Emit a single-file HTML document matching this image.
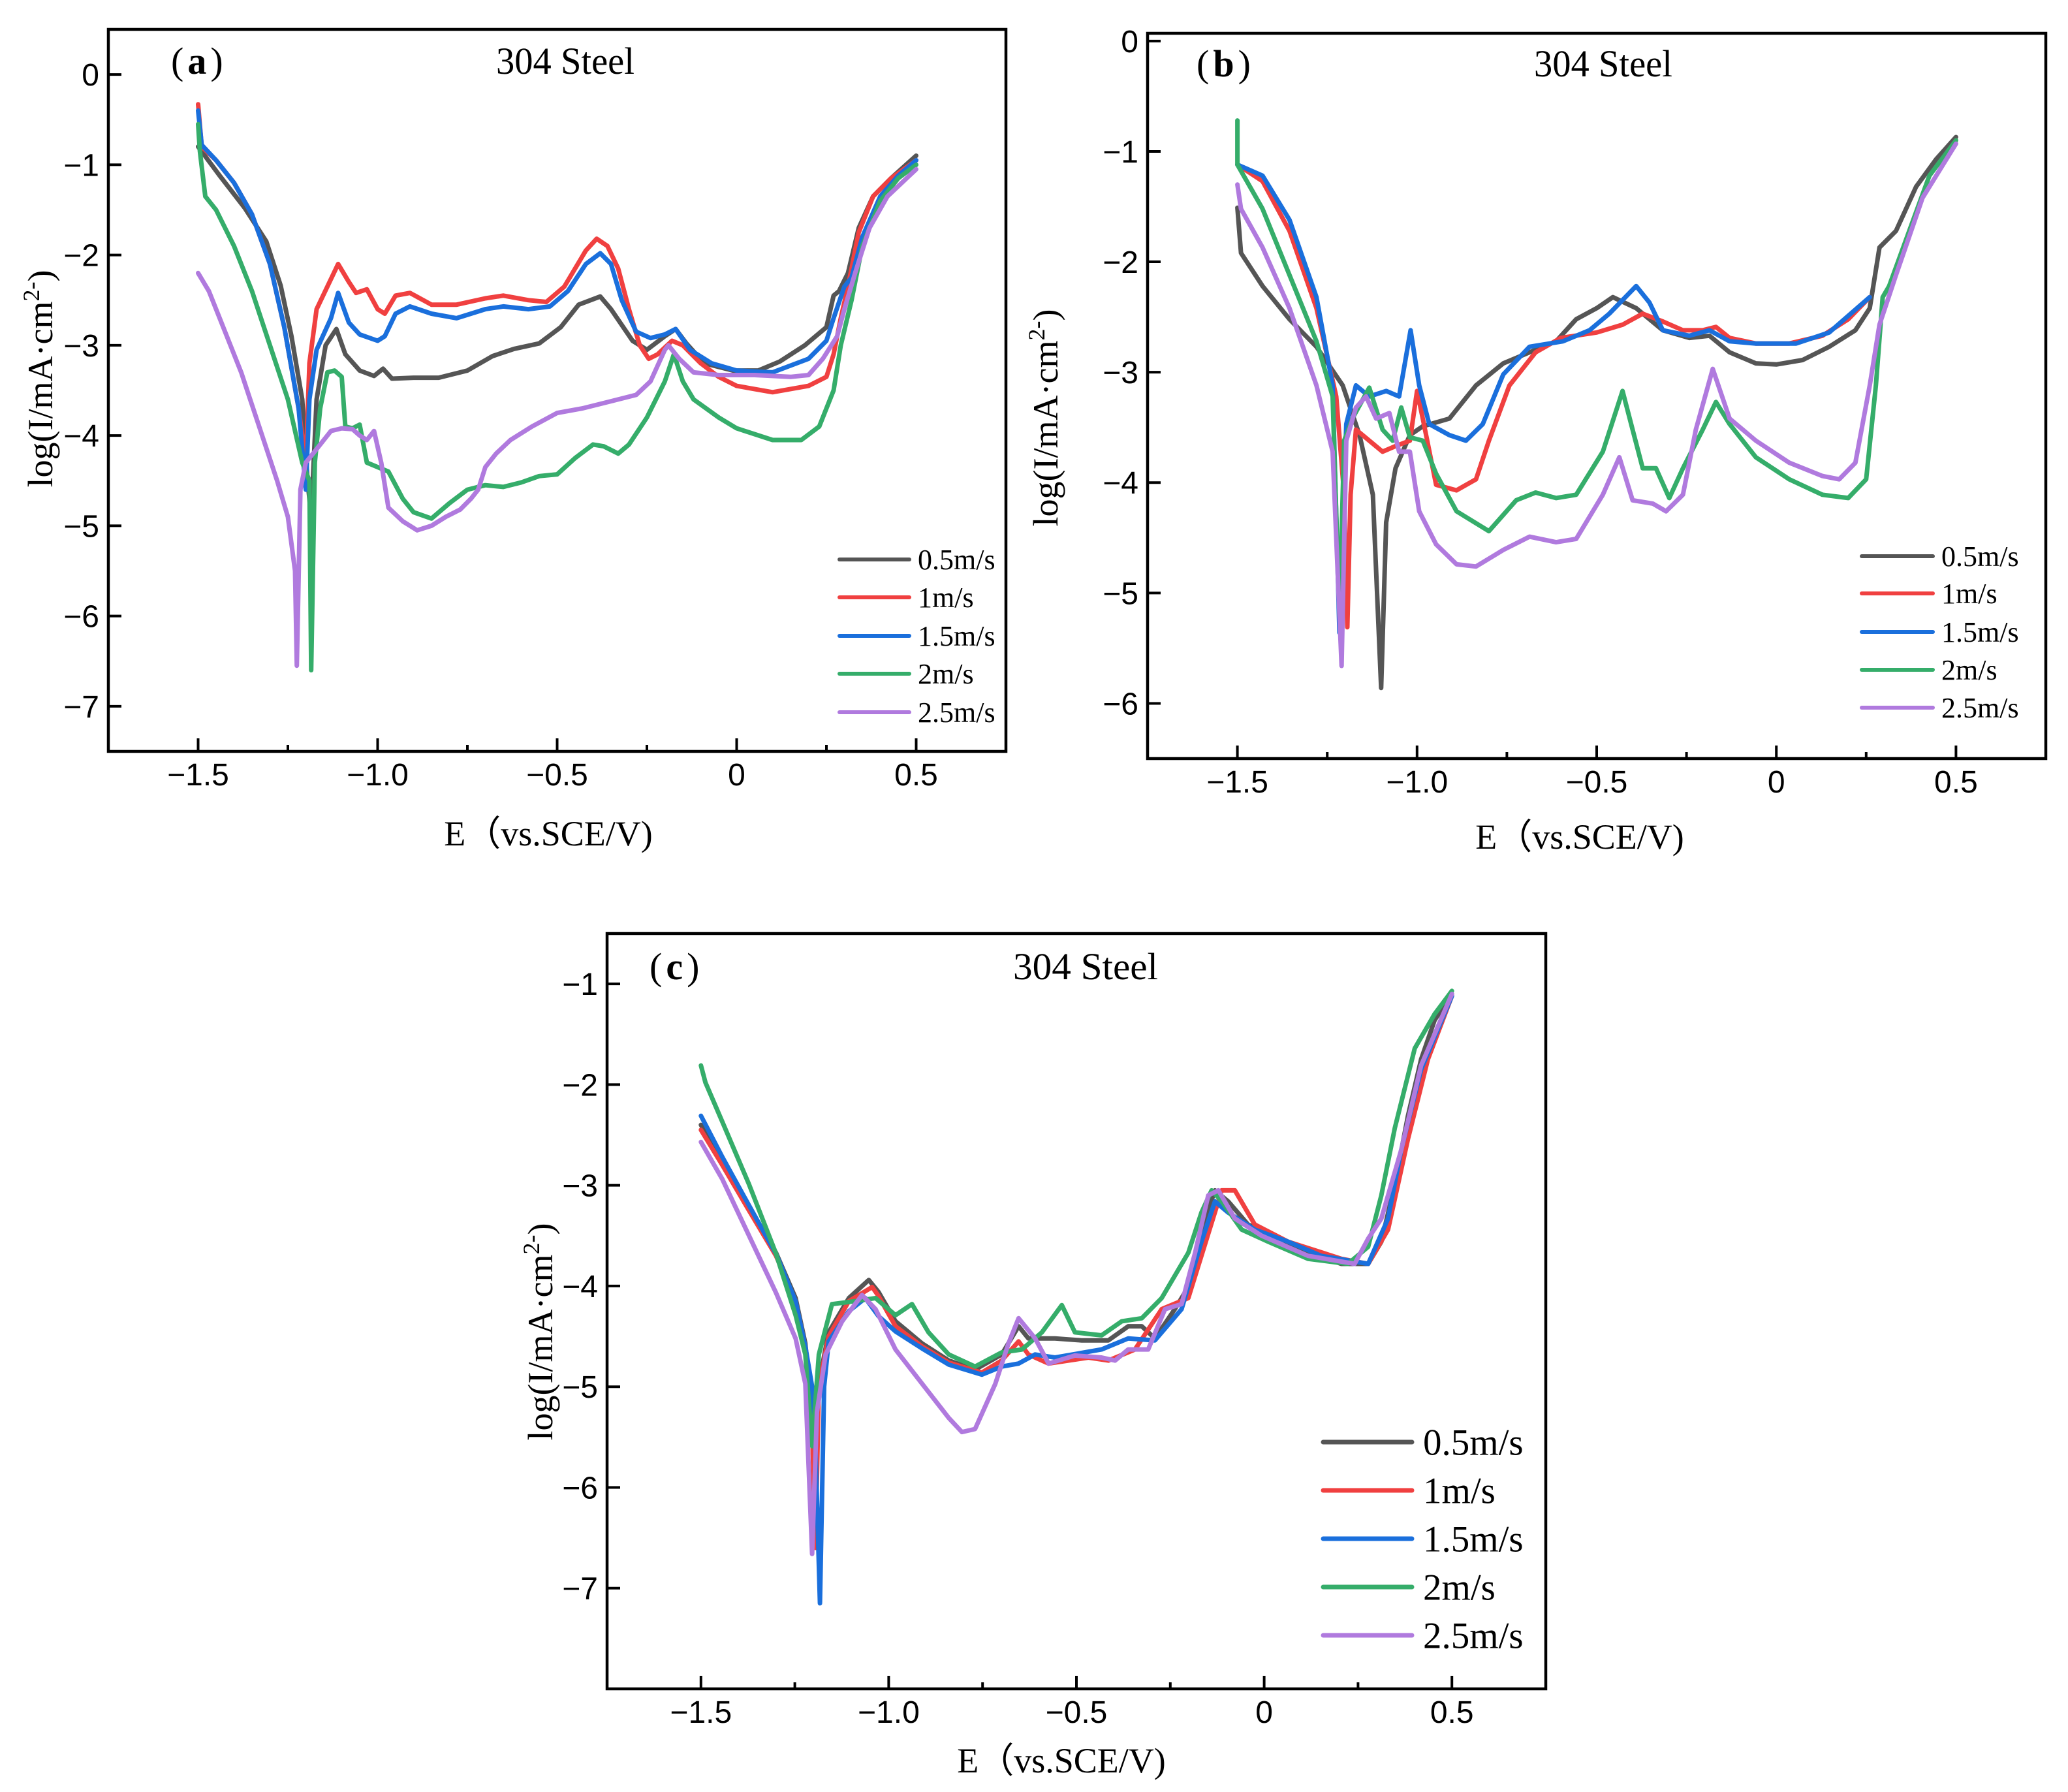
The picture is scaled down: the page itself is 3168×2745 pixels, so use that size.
<!DOCTYPE html>
<html><head><meta charset="utf-8">
<style>
html,body{margin:0;padding:0;background:#fff;}
svg{display:block;}
.tick{font-family:"Liberation Sans",sans-serif;font-size:48px;fill:#000;}
.serif{font-family:"Liberation Serif",serif;fill:#000;}
</style></head>
<body>
<svg id="fig" width="3168" height="2745" viewBox="0 0 3168 2745" xmlns="http://www.w3.org/2000/svg"></svg>
<script>
// ---------- Panel (a) data ----------
const aE05=[-1.5,-1.44,-1.37,-1.31,-1.27,-1.24,-1.21,-1.195,-1.185,-1.17,-1.145,-1.115,-1.09,-1.05,-1.01,-0.985,-0.96,-0.9,-0.83,-0.75,-0.68,-0.62,-0.55,-0.49,-0.44,-0.38,-0.35,-0.29,-0.25,-0.2,-0.17,-0.14,-0.09,-0.01,0.06,0.12,0.19,0.25,0.27,0.285,0.31,0.34,0.38,0.43,0.5];
const aI05=[-0.8,-1.12,-1.48,-1.85,-2.34,-2.9,-3.6,-4.5,-4.9,-3.6,-3.0,-2.82,-3.1,-3.28,-3.34,-3.26,-3.37,-3.36,-3.36,-3.28,-3.12,-3.04,-2.98,-2.8,-2.55,-2.46,-2.6,-2.95,-3.05,-2.9,-2.82,-2.98,-3.2,-3.28,-3.28,-3.18,-3.0,-2.8,-2.45,-2.4,-2.2,-1.7,-1.35,-1.15,-0.9];
const aE1=[-1.5,-1.49,-1.45,-1.4,-1.35,-1.3,-1.26,-1.22,-1.2,-1.19,-1.17,-1.14,-1.11,-1.08,-1.06,-1.03,-1.0,-0.98,-0.95,-0.91,-0.85,-0.78,-0.7,-0.65,-0.58,-0.53,-0.48,-0.42,-0.39,-0.36,-0.33,-0.3,-0.27,-0.245,-0.22,-0.18,-0.15,-0.1,-0.05,0.0,0.1,0.2,0.25,0.27,0.29,0.31,0.34,0.38,0.43,0.5];
const aI1=[-0.33,-0.8,-0.95,-1.2,-1.55,-2.1,-2.8,-3.7,-4.3,-3.2,-2.6,-2.35,-2.1,-2.3,-2.42,-2.38,-2.6,-2.65,-2.45,-2.42,-2.55,-2.55,-2.48,-2.45,-2.5,-2.52,-2.35,-1.95,-1.82,-1.9,-2.15,-2.6,-3.0,-3.15,-3.1,-2.95,-3.0,-3.2,-3.35,-3.45,-3.52,-3.45,-3.35,-3.1,-2.7,-2.35,-1.75,-1.35,-1.15,-0.95];
const aE15=[-1.5,-1.49,-1.45,-1.4,-1.35,-1.3,-1.26,-1.22,-1.2,-1.19,-1.17,-1.13,-1.11,-1.08,-1.05,-1.0,-0.98,-0.95,-0.91,-0.85,-0.78,-0.7,-0.65,-0.58,-0.52,-0.47,-0.42,-0.38,-0.35,-0.32,-0.28,-0.24,-0.2,-0.17,-0.13,-0.07,0.0,0.1,0.2,0.25,0.27,0.3,0.32,0.35,0.4,0.45,0.5];
const aI15=[-0.4,-0.78,-0.95,-1.2,-1.55,-2.1,-2.8,-3.7,-4.6,-3.6,-3.05,-2.7,-2.42,-2.75,-2.88,-2.95,-2.9,-2.65,-2.57,-2.65,-2.7,-2.6,-2.57,-2.6,-2.57,-2.4,-2.1,-1.98,-2.1,-2.5,-2.85,-2.92,-2.88,-2.82,-3.05,-3.2,-3.28,-3.3,-3.15,-2.95,-2.7,-2.35,-2.25,-1.8,-1.35,-1.12,-0.95];
const aE2=[-1.5,-1.495,-1.48,-1.45,-1.4,-1.35,-1.3,-1.25,-1.21,-1.19,-1.185,-1.175,-1.16,-1.14,-1.12,-1.1,-1.09,-1.07,-1.05,-1.03,-1.0,-0.97,-0.93,-0.9,-0.85,-0.8,-0.75,-0.7,-0.65,-0.6,-0.55,-0.5,-0.45,-0.4,-0.37,-0.33,-0.3,-0.25,-0.2,-0.175,-0.15,-0.12,-0.05,0.0,0.1,0.18,0.23,0.27,0.29,0.32,0.35,0.4,0.45,0.5];
const aI2=[-0.55,-0.85,-1.35,-1.5,-1.9,-2.4,-3.0,-3.6,-4.3,-4.5,-6.6,-4.3,-3.7,-3.3,-3.28,-3.35,-3.9,-3.92,-3.88,-4.3,-4.35,-4.4,-4.7,-4.85,-4.92,-4.75,-4.6,-4.55,-4.57,-4.52,-4.45,-4.43,-4.25,-4.1,-4.12,-4.2,-4.1,-3.8,-3.4,-3.1,-3.4,-3.6,-3.8,-3.92,-4.05,-4.05,-3.9,-3.5,-3.0,-2.5,-1.9,-1.4,-1.15,-1.0];
const aE25=[-1.5,-1.47,-1.43,-1.38,-1.33,-1.28,-1.25,-1.23,-1.225,-1.215,-1.2,-1.17,-1.13,-1.1,-1.07,-1.05,-1.03,-1.01,-0.99,-0.97,-0.93,-0.89,-0.85,-0.81,-0.77,-0.74,-0.72,-0.7,-0.67,-0.63,-0.57,-0.5,-0.43,-0.35,-0.28,-0.24,-0.2,-0.19,-0.16,-0.12,-0.05,0.05,0.15,0.2,0.24,0.28,0.3,0.33,0.37,0.42,0.5];
const aI25=[-2.2,-2.4,-2.8,-3.3,-3.9,-4.5,-4.9,-5.5,-6.55,-4.6,-4.3,-4.15,-3.95,-3.92,-3.93,-4.0,-4.05,-3.95,-4.3,-4.8,-4.95,-5.05,-5.0,-4.9,-4.82,-4.7,-4.6,-4.35,-4.2,-4.05,-3.9,-3.75,-3.7,-3.62,-3.55,-3.4,-3.05,-3.0,-3.15,-3.3,-3.33,-3.33,-3.35,-3.33,-3.15,-2.9,-2.6,-2.2,-1.7,-1.35,-1.05];
// ---------- Panel (b) data ----------
const bE05=[-1.5,-1.49,-1.43,-1.355,-1.28,-1.207,-1.16,-1.123,-1.1,-1.086,-1.06,-1.02,-0.984,-0.91,-0.836,-0.76,-0.687,-0.613,-0.557,-0.5,-0.455,-0.39,-0.316,-0.242,-0.186,-0.13,-0.057,0.0,0.073,0.147,0.22,0.26,0.287,0.333,0.389,0.445,0.5];
const bI05=[-1.51,-1.92,-2.22,-2.52,-2.77,-3.12,-3.57,-4.11,-5.86,-4.36,-3.87,-3.57,-3.49,-3.42,-3.12,-2.92,-2.82,-2.72,-2.52,-2.42,-2.32,-2.42,-2.62,-2.69,-2.67,-2.82,-2.92,-2.93,-2.89,-2.77,-2.62,-2.42,-1.87,-1.72,-1.32,-1.07,-0.87];
const bE1=[-1.5,-1.43,-1.355,-1.28,-1.225,-1.203,-1.194,-1.185,-1.17,-1.133,-1.096,-1.06,-1.02,-1.0,-0.984,-0.947,-0.89,-0.836,-0.8,-0.743,-0.67,-0.6,-0.5,-0.428,-0.372,-0.316,-0.26,-0.205,-0.168,-0.13,-0.057,0.036,0.128,0.2,0.26];
const bI1=[-1.12,-1.27,-1.72,-2.42,-3.22,-4.11,-5.31,-4.11,-3.52,-3.62,-3.72,-3.67,-3.62,-3.17,-3.42,-4.02,-4.07,-3.97,-3.62,-3.12,-2.82,-2.69,-2.64,-2.57,-2.47,-2.54,-2.62,-2.62,-2.59,-2.69,-2.74,-2.74,-2.67,-2.52,-2.32];
const bE15=[-1.5,-1.43,-1.355,-1.28,-1.235,-1.216,-1.197,-1.17,-1.133,-1.086,-1.05,-1.018,-0.994,-0.966,-0.91,-0.864,-0.817,-0.76,-0.687,-0.594,-0.52,-0.465,-0.39,-0.353,-0.316,-0.242,-0.186,-0.13,-0.057,0.055,0.147,0.26];
const bI15=[-1.12,-1.22,-1.62,-2.32,-3.12,-5.36,-3.47,-3.12,-3.22,-3.17,-3.22,-2.62,-3.12,-3.47,-3.57,-3.62,-3.47,-3.02,-2.77,-2.72,-2.62,-2.47,-2.22,-2.37,-2.62,-2.67,-2.62,-2.72,-2.74,-2.74,-2.64,-2.32];
const bE2=[-1.5,-1.5,-1.43,-1.355,-1.28,-1.235,-1.216,-1.203,-1.18,-1.133,-1.096,-1.068,-1.044,-1.02,-0.984,-0.947,-0.89,-0.8,-0.724,-0.67,-0.613,-0.557,-0.483,-0.428,-0.4,-0.372,-0.335,-0.298,-0.26,-0.205,-0.168,-0.13,-0.057,0.036,0.128,0.2,0.25,0.277,0.296,0.314,0.37,0.426,0.5];
const bI2=[-0.72,-1.12,-1.52,-2.12,-2.72,-3.22,-5.21,-3.62,-3.42,-3.14,-3.52,-3.62,-3.32,-3.59,-3.62,-3.92,-4.26,-4.44,-4.16,-4.09,-4.14,-4.11,-3.72,-3.17,-3.52,-3.87,-3.87,-4.14,-3.87,-3.52,-3.27,-3.47,-3.77,-3.97,-4.11,-4.14,-3.97,-3.12,-2.32,-2.22,-1.72,-1.22,-0.9];
const bE25=[-1.5,-1.49,-1.43,-1.355,-1.28,-1.235,-1.21,-1.197,-1.17,-1.142,-1.114,-1.077,-1.05,-1.02,-0.994,-0.947,-0.89,-0.836,-0.76,-0.687,-0.613,-0.557,-0.483,-0.437,-0.4,-0.344,-0.307,-0.26,-0.224,-0.177,-0.13,-0.057,0.036,0.128,0.175,0.22,0.26,0.287,0.333,0.407,0.5];
const bI25=[-1.3,-1.52,-1.87,-2.42,-3.12,-3.72,-5.66,-3.62,-3.32,-3.22,-3.42,-3.37,-3.72,-3.72,-4.26,-4.56,-4.74,-4.76,-4.61,-4.49,-4.54,-4.51,-4.11,-3.77,-4.16,-4.19,-4.26,-4.11,-3.52,-2.97,-3.42,-3.62,-3.82,-3.94,-3.97,-3.82,-3.12,-2.57,-2.12,-1.42,-0.93];
// ---------- Panel (c) data ----------
const cE05=[-1.5,-1.443,-1.372,-1.3,-1.248,-1.222,-1.204,-1.195,-1.186,-1.16,-1.106,-1.053,-1.027,-0.982,-0.911,-0.84,-0.77,-0.699,-0.654,-0.628,-0.557,-0.486,-0.415,-0.362,-0.326,-0.291,-0.238,-0.202,-0.167,-0.131,-0.096,-0.043,0.028,0.117,0.206,0.277,0.312,0.348,0.383,0.418,0.454,0.5];
const cI05=[-2.4,-2.77,-3.22,-3.67,-4.12,-4.57,-5.25,-6.1,-4.97,-4.46,-4.12,-3.94,-4.06,-4.35,-4.57,-4.74,-4.83,-4.68,-4.4,-4.52,-4.52,-4.54,-4.54,-4.4,-4.4,-4.52,-4.23,-4.01,-3.44,-3.05,-3.16,-3.39,-3.5,-3.67,-3.78,-3.78,-3.56,-2.99,-2.31,-1.75,-1.36,-1.1];
const cE1=[-1.5,-1.443,-1.372,-1.3,-1.248,-1.222,-1.204,-1.195,-1.186,-1.16,-1.106,-1.044,-1.027,-0.982,-0.911,-0.84,-0.752,-0.699,-0.654,-0.628,-0.574,-0.468,-0.415,-0.344,-0.273,-0.202,-0.113,-0.078,-0.025,0.064,0.206,0.277,0.33,0.383,0.436,0.5];
const cI1=[-2.45,-2.8,-3.25,-3.7,-4.15,-4.6,-5.4,-6.6,-5.0,-4.5,-4.15,-4.01,-4.1,-4.4,-4.6,-4.76,-4.86,-4.74,-4.55,-4.68,-4.77,-4.71,-4.74,-4.63,-4.23,-4.12,-3.05,-3.05,-3.39,-3.56,-3.73,-3.78,-3.44,-2.54,-1.75,-1.12];
const cE15=[-1.5,-1.443,-1.372,-1.3,-1.248,-1.222,-1.204,-1.195,-1.183,-1.172,-1.16,-1.106,-1.062,-1.027,-0.982,-0.911,-0.84,-0.752,-0.699,-0.654,-0.61,-0.557,-0.433,-0.362,-0.291,-0.22,-0.167,-0.131,-0.096,-0.025,0.064,0.152,0.277,0.33,0.365,0.418,0.5];
const cI15=[-2.31,-2.72,-3.2,-3.68,-4.15,-4.6,-5.0,-5.6,-7.15,-5.0,-4.55,-4.25,-4.12,-4.3,-4.45,-4.62,-4.78,-4.88,-4.8,-4.77,-4.68,-4.71,-4.63,-4.52,-4.54,-4.23,-3.56,-3.16,-3.27,-3.44,-3.56,-3.7,-3.78,-3.33,-2.65,-1.85,-1.12];
const cE2=[-1.5,-1.488,-1.443,-1.372,-1.301,-1.248,-1.222,-1.204,-1.186,-1.151,-1.089,-1.035,-0.982,-0.938,-0.894,-0.84,-0.77,-0.699,-0.645,-0.592,-0.539,-0.504,-0.433,-0.379,-0.326,-0.273,-0.202,-0.167,-0.14,-0.113,-0.06,0.011,0.117,0.223,0.277,0.312,0.348,0.401,0.454,0.5];
const cI2=[-1.81,-1.98,-2.37,-2.99,-3.67,-4.29,-4.68,-5.59,-4.68,-4.18,-4.15,-4.12,-4.29,-4.18,-4.46,-4.68,-4.8,-4.66,-4.63,-4.46,-4.19,-4.46,-4.49,-4.35,-4.32,-4.12,-3.67,-3.27,-3.05,-3.16,-3.44,-3.56,-3.73,-3.78,-3.61,-3.1,-2.43,-1.64,-1.3,-1.07];
const cE25=[-1.5,-1.443,-1.372,-1.301,-1.248,-1.222,-1.204,-1.191,-1.168,-1.124,-1.071,-1.035,-0.982,-0.911,-0.84,-0.805,-0.77,-0.716,-0.681,-0.654,-0.61,-0.574,-0.504,-0.433,-0.397,-0.362,-0.309,-0.264,-0.22,-0.184,-0.149,-0.122,-0.078,-0.007,0.117,0.241,0.277,0.312,0.365,0.418,0.5];
const cI25=[-2.57,-2.94,-3.5,-4.06,-4.52,-4.97,-6.66,-5.25,-4.68,-4.35,-4.09,-4.23,-4.63,-4.97,-5.31,-5.45,-5.42,-4.97,-4.57,-4.32,-4.52,-4.77,-4.69,-4.71,-4.74,-4.63,-4.63,-4.23,-4.18,-3.67,-3.1,-3.05,-3.33,-3.5,-3.7,-3.78,-3.53,-3.33,-2.65,-1.81,-1.1];

const seriesNames=["0.5m/s","1m/s","1.5m/s","2m/s","2.5m/s"];
const seriesColors=["#555555","#f04040","#1a6fdc","#35ad6a","#b07ade"];
const xTickVals=[-1.5,-1.0,-0.5,0,0.5];
const xTickLabels=["\u22121.5","\u22121.0","\u22120.5","0","0.5"];
const aYTicks=[0,-1,-2,-3,-4,-5,-6,-7];
const bYTicks=[0,-1,-2,-3,-4,-5,-6];
const cYTicks=[-1,-2,-3,-4,-5,-6,-7];

const NS="http://www.w3.org/2000/svg";
const fig=document.getElementById('fig');
function mk(tag,attrs,parent){const e=document.createElementNS(NS,tag);for(const k in attrs)e.setAttribute(k,attrs[k]);(parent||fig).appendChild(e);return e;}
function fmtY(v){return v<0?"\u2212"+Math.abs(v):String(v);}

const panels=[
 {id:"a",x0:166,x1:1541,y0:45,y1:1151,ymin:-7.5,ymax:0.5,yt:aYTicks,
  E:[aE05,aE1,aE15,aE2,aE25],I:[aI05,aI1,aI15,aI2,aI25],
  tagX:262,tagY:113,titleX:760,titleW:212,fs:58,
  legX1:1286,legX2:1393,legY:[857,915,974,1032,1091],legFs:44,legTx:1406,
  ytitleX:80,ytitleY:580,xtitleX:840,xtitleY:1295},
 {id:"b",x0:1758,x1:3134,y0:51,y1:1162,ymin:-6.5,ymax:0.07,yt:bYTicks,
  E:[bE05,bE1,bE15,bE2,bE25],I:[bI05,bI1,bI15,bI2,bI25],
  tagX:1833,tagY:117,titleX:2350,titleW:212,fs:58,
  legX1:2852,legX2:2961,legY:[852,909,968,1026,1084],legFs:44,legTx:2974,
  ytitleX:1620,ytitleY:640,xtitleX:2420,xtitleY:1300},
 {id:"c",x0:930,x1:2368,y0:1430,y1:2587,ymin:-8,ymax:-0.5,yt:cYTicks,
  E:[cE05,cE1,cE15,cE2,cE25],I:[cI05,cI1,cI15,cI2,cI25],
  tagX:995,tagY:1500,titleX:1552,titleW:222,fs:58,
  legX1:2027,legX2:2163,legY:[2209,2283,2357,2431,2505],legFs:57,legTx:2180,
  ytitleX:846,ytitleY:2040,xtitleX:1626,xtitleY:2715}
];

panels.forEach(p=>{
  const g=mk('g',{});
  
  
  const sx=v=>p.x0+(v-(-1.75))/(2.5)*(p.x1-p.x0);
  const sy=v=>p.y0+(p.ymax-v)/(p.ymax-p.ymin)*(p.y1-p.y0);
  p.E.forEach((Ea,si)=>{
    const Ia=p.I[si];
    let d="";
    for(let i=0;i<Ea.length;i++){d+=(i?"L":"M")+sx(Ea[i]).toFixed(1)+","+sy(Ia[i]).toFixed(1);}
    const path=mk('path',{d:d,fill:"none",stroke:seriesColors[si],"stroke-width":7,"stroke-linejoin":"round","stroke-linecap":"round"},g);
    
    
  });
  const fr=mk('rect',{x:p.x0,y:p.y0,width:p.x1-p.x0,height:p.y1-p.y0,fill:"none",stroke:"#000","stroke-width":4.5},g);
  
  
  xTickVals.forEach((v,i)=>{
    const x=sx(v);
    const t=mk('line',{x1:x,x2:x,y1:p.y1,y2:p.y1-20,stroke:"#000","stroke-width":4},g);
    
    
    if(i<xTickVals.length-1){const xm=sx(v+0.25);
      const m=mk('line',{x1:xm,x2:xm,y1:p.y1,y2:p.y1-10,stroke:"#000","stroke-width":4},g);
      
      }
    const lb=mk('text',{x:x,y:p.y1+52,"text-anchor":"middle",class:"tick"},g);
    lb.textContent=xTickLabels[i];
    
    
  });
  p.yt.forEach(v=>{
    const y=sy(v);
    const t=mk('line',{x1:p.x0,x2:p.x0+20,y1:y,y2:y,stroke:"#000","stroke-width":4},g);
    
    
    const lb=mk('text',{x:p.x0-14,y:y+17,"text-anchor":"end",class:"tick"},g);
    lb.textContent=fmtY(v);
    
    
  });
  const tag=mk('text',{x:p.tagX,y:p.tagY,class:"serif","font-size":p.fs},g);
  tag.innerHTML='(<tspan font-weight="bold" dx="6">'+p.id+'</tspan><tspan dx="6">)</tspan>';
  
  
  const ti=mk('text',{x:p.titleX,y:p.tagY,class:"serif","font-size":p.fs,textLength:p.titleW,lengthAdjust:"spacingAndGlyphs"},g);
  ti.textContent="304 Steel";
  
  
  seriesNames.forEach((n,si)=>{
    const ln=mk('line',{x1:p.legX1,x2:p.legX2,y1:p.legY[si],y2:p.legY[si],stroke:seriesColors[si],"stroke-width":p.id==="c"?7:6,"stroke-linecap":"round"},g);
    
    
    const tx=mk('text',{x:p.legTx,y:p.legY[si]+p.legFs*0.34,class:"serif","font-size":p.legFs},g);
    tx.textContent=n;
    
    
  });
  const xt=mk('text',{x:p.xtitleX,y:p.xtitleY,"text-anchor":"middle",class:"serif","font-size":54},g);
  xt.textContent="E\uFF08vs.SCE/V)";
  
  
  const yt=mk('text',{x:0,y:0,"text-anchor":"middle",class:"serif","font-size":54,transform:"translate("+p.ytitleX+","+p.ytitleY+") rotate(-90)"},g);
  yt.innerHTML='log(I/mA\u00B7cm<tspan font-size="36" dy="-20">2-</tspan><tspan dy="20">)</tspan>';
  
  
});
</script>
</body></html>
